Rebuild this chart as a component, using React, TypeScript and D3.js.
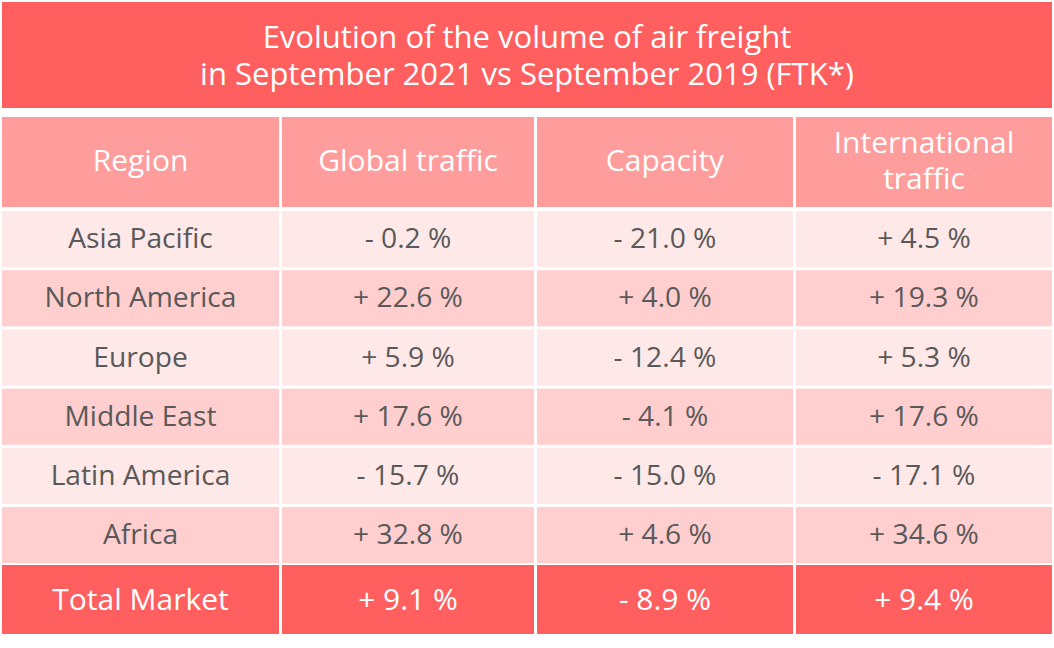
import React, { useEffect } from "react";
import * as d3 from "d3";

const titleLines = ["Evolution of the volume of air freight", "in September 2021 vs September 2019 (FTK*)"];
const headers = [["Region"], ["Global traffic"], ["Capacity"], ["International", "traffic"]];
const regions = ["Asia Pacific", "North America", "Europe", "Middle East", "Latin America", "Africa"];
const globalTraffic = ["- 0.2 %", "+ 22.6 %", "+ 5.9 %", "+ 17.6 %", "- 15.7 %", "+ 32.8 %"];
const capacity = ["- 21.0 %", "+ 4.0 %", "- 12.4 %", "- 4.1 %", "- 15.0 %", "+ 4.6 %"];
const internationalTraffic = ["+ 4.5 %", "+ 19.3 %", "+ 5.3 %", "+ 17.6 %", "- 17.1 %", "+ 34.6 %"];
const totalRow = ["Total Market", "+ 9.1 %", "- 8.9 %", "+ 9.4 %"];

const W = 1054;
const H = 648;
const FONT = "'Open Sans', sans-serif";
const colEdges = [2, 282, 537, 796, 1055];
const GAP = 3;
const C = {
  title: "#FF5F5F",
  header: "#FF9C9C",
  light: "#FFE8E8",
  dark: "#FFCFCF",
  total: "#FF5F5F",
  text: "#595959",
};

export default function App() {
  useEffect(() => {
    document.body.style.margin = "0";
  }, []);
  const fs = 28.2;
  const fsW = 30;
  const cols = [0, 1, 2, 3];
  const colX = (i: number) => colEdges[i];
  const colW = (i: number) => colEdges[i + 1] - colEdges[i] - GAP;
  const y = d3.scaleBand<string>().domain(regions).range([211, 211 + 6 * 59.2]).paddingInner(0).paddingOuter(0);
  const rowH = y.bandwidth() - GAP;
  const cells = regions.map((r, i) => [r, globalTraffic[i], capacity[i], internationalTraffic[i]]);
  const totalTop = 565;
  const totalH = 69;

  return (
    <svg width={W} height={H} style={{ position: "absolute", left: 0, top: 0, background: "#fff" }} fontFamily={FONT}>
      <rect x={2} y={2} width={1050} height={106} fill={C.title} />
      {titleLines.map((t, i) => (
        <text key={t} x={W / 2} y={48 + i * 37} textAnchor="middle" fill="#fff" fontSize={31}>
          {t}
        </text>
      ))}
      {cols.map((c) => (
        <g key={"h" + c}>
          <rect x={colX(c)} y={117} width={colW(c)} height={90} fill={C.header} />
          {headers[c].map((t, j) => {
            const n = headers[c].length;
            const cy = 160 + (j - (n - 1) / 2) * 36;
            return (
              <text key={t} x={colX(c) + colW(c) / 2} y={cy + fsW * 0.357} textAnchor="middle" fill="#fff" fontSize={fsW}>
                {t}
              </text>
            );
          })}
        </g>
      ))}
      {cells.map((row, i) => (
        <g key={regions[i]}>
          {row.map((v, c) => (
            <g key={c}>
              <rect x={colX(c)} y={y(regions[i])!} width={colW(c)} height={rowH} fill={i % 2 === 0 ? C.light : C.dark} />
              <text
                x={colX(c) + colW(c) / 2}
                y={y(regions[i])! + rowH / 2 + fs * 0.357 - 1}
                textAnchor="middle"
                fill={C.text}
                fontSize={fs}
              >
                {v}
              </text>
            </g>
          ))}
        </g>
      ))}
      {totalRow.map((v, c) => (
        <g key={"t" + c}>
          <rect x={colX(c)} y={totalTop} width={colW(c)} height={totalH} fill={C.total} />
          <text x={colX(c) + colW(c) / 2} y={totalTop + totalH / 2 + fsW * 0.357} textAnchor="middle" fill="#fff" fontSize={fsW}>
            {v}
          </text>
        </g>
      ))}
    </svg>
  );
}
